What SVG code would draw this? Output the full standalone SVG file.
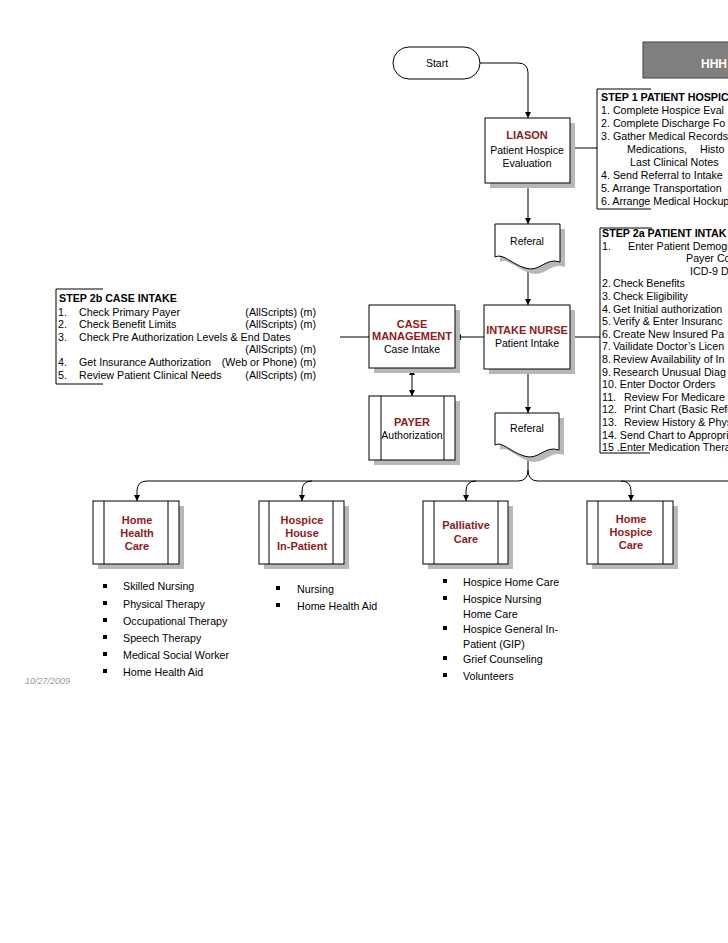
<svg xmlns="http://www.w3.org/2000/svg" width="728" height="943" viewBox="0 0 728 943">
<defs>
<marker id="arr" viewBox="0 0 10 10" refX="10" refY="5" markerWidth="6" markerHeight="6" orient="auto-start-reverse"><path d="M0,0 L10,5 L0,10 z" fill="#000"/></marker>
<style>
text{font-family:"Liberation Sans",Arial,sans-serif;font-size:10.7px;fill:#000}
.t{font-size:10.5px;text-anchor:middle}
.h{font-size:11px;font-weight:bold;fill:#8c1c1c;text-anchor:middle}
.b{font-weight:bold}
.box{fill:#fff;stroke:#000;stroke-width:1}
.sh{fill:#b8b8b8}
.ln{fill:none;stroke:#000;stroke-width:1}
.bul{fill:#000}
</style>
</defs>
<rect width="728" height="943" fill="#fff"/>

<g id="connectors">
<path class="ln" d="M480,63 H518 Q528,63 528,73 V118" marker-end="url(#arr)"/>
<path class="ln" d="M570,148 H597"/>
<path class="ln" d="M528,183 V224" marker-end="url(#arr)"/>
<path class="ln" d="M528,266 V305" marker-end="url(#arr)"/>
<path class="ln" d="M570,337 H600"/>
<path class="ln" d="M484,337 H455" marker-end="url(#arr)"/>
<path class="ln" d="M340,337 H369"/>
<path class="ln" d="M412,369 V396" marker-start="url(#arr)" marker-end="url(#arr)"/>
<path class="ln" d="M528,369 V413" marker-end="url(#arr)"/>
<path class="ln" d="M528,455 V470 Q528,481 518,481 H147 Q137,481 137,491 V501" marker-end="url(#arr)"/>
<path class="ln" d="M528,470 Q528,481 538,481 H728"/>
<path class="ln" d="M312,481 Q302,481 302,491 V501" marker-end="url(#arr)"/>
<path class="ln" d="M476,481 Q466,481 466,491 V501" marker-end="url(#arr)"/>
<path class="ln" d="M621,481 Q631,481 631,491 V501" marker-end="url(#arr)"/>
</g>

<g id="start">
<rect class="box" x="393" y="47" width="87" height="32" rx="16"/>
<text class="t" x="437" y="67">Start</text>
</g>

<g id="header">
<rect x="643" y="42" width="90" height="36" fill="#7f7f7f" stroke="#404040"/>
<text x="701" y="68" style="font-size:12px;font-weight:bold;fill:#fff">HHH</text>
</g>

<g id="liason">
<rect class="sh" x="490" y="123" width="85" height="65"/>
<rect class="box" x="485" y="118" width="85" height="65"/>
<text class="h" x="527" y="139">LIASON</text>
<text class="t" x="527" y="154">Patient Hospice</text>
<text class="t" x="527" y="167">Evaluation</text>
</g>

<g id="step1">
<path class="ln" d="M651,89 H597 V209 H651"/>
<text x="601" y="101" class="b">STEP 1  PATIENT HOSPIC</text>
<text x="601" y="114">1.  Complete Hospice Eval</text>
<text x="601" y="127">2.  Complete Discharge Fo</text>
<text x="601" y="140">3.  Gather Medical Records</text>
<text x="627" y="153">Medications,</text>
<text x="700" y="153">Histo</text>
<text x="630" y="166">Last Clinical Notes</text>
<text x="601" y="179">4. Send Referral to Intake</text>
<text x="601" y="192">5. Arrange Transportation</text>
<text x="601" y="205">6. Arrange Medical Hockup</text>
</g>

<g id="referal1">
<path class="sh" d="M500,229 H565 V267 C550,262 545,278 530,273 C515,268 508,258 500,262 z"/>
<path class="box" d="M495,224 H560 V262 C545,257 540,273 525,268 C510,263 503,253 495,257 z"/>
<text class="t" x="527" y="245">Referal</text>
</g>

<g id="intake">
<rect class="sh" x="489" y="310" width="86" height="64"/>
<rect class="box" x="484" y="305" width="86" height="64"/>
<text class="h" x="527" y="334">INTAKE NURSE</text>
<text class="t" x="527" y="347">Patient Intake</text>
</g>

<g id="step2a">
<path class="ln" d="M652,228 H600 V453 H650"/>
<text x="602" y="237" class="b">STEP 2a  PATIENT INTAK</text>
<text x="602" y="249.6">1.</text><text x="628" y="249.6">Enter Patient Demogra</text>
<text x="686" y="262.2">Payer Co</text>
<text x="690" y="274.8">ICD-9 Di</text>
<text x="602" y="287.4">2.</text><text x="613" y="287.4">Check Benefits</text>
<text x="602" y="300">3.</text><text x="613" y="300">Check Eligibility</text>
<text x="602" y="312.6">4.</text><text x="613" y="312.6">Get Initial authorization</text>
<text x="602" y="325.2">5.</text><text x="613" y="325.2">Verify &amp; Enter Insuranc</text>
<text x="602" y="337.8">6.</text><text x="613" y="337.8">Create New Insured Pa</text>
<text x="602" y="350.4">7.</text><text x="613" y="350.4">Vailidate Doctor’s Licen</text>
<text x="602" y="363">8.</text><text x="613" y="363">Review Availability of In</text>
<text x="602" y="375.6">9.</text><text x="613" y="375.6">Research Unusual Diag</text>
<text x="602" y="388.2">10. Enter Doctor Orders</text>
<text x="602" y="400.8">11.</text><text x="624" y="400.8">Review For Medicare</text>
<text x="602" y="413.4">12.</text><text x="624" y="413.4">Print Chart (Basic Refe</text>
<text x="602" y="426">13.</text><text x="624" y="426">Review History &amp; Phys</text>
<text x="602" y="438.6">14. Send Chart to Appropri</text>
<text x="602" y="451.2">15 .Enter Medication Thera</text>
</g>

<g id="case-management">
<rect class="sh" x="374" y="310" width="86" height="63"/>
<rect class="box" x="369" y="305" width="86" height="63"/>
<text class="h" x="412" y="328">CASE</text>
<text class="h" x="412" y="340">MANAGEMENT</text>
<text class="t" x="412" y="353">Case Intake</text>
</g>

<g id="step2b">
<path class="ln" d="M103,289 H56 V384 H103"/>
<text x="59" y="302" class="b">STEP 2b  CASE INTAKE</text>
<text x="58" y="315.6">1.</text><text x="79" y="315.6">Check Primary Payer</text><text x="316" y="315.6" text-anchor="end">(AllScripts) (m)</text>
<text x="58" y="328.2">2.</text><text x="79" y="328.2">Check Benefit Limits</text><text x="316" y="328.2" text-anchor="end">(AllScripts) (m)</text>
<text x="58" y="340.8">3.</text><text x="79" y="340.8">Check Pre Authorization Levels &amp; End Dates</text>
<text x="316" y="353.4" text-anchor="end">(AllScripts) (m)</text>
<text x="58" y="366">4.</text><text x="79" y="366">Get Insurance Authorization</text><text x="316" y="366" text-anchor="end">(Web or Phone) (m)</text>
<text x="58" y="378.6">5.</text><text x="79" y="378.6">Review Patient Clinical Needs</text><text x="316" y="378.6" text-anchor="end">(AllScripts) (m)</text>
</g>

<g id="payer">
<rect class="sh" x="374" y="401" width="86" height="64"/>
<rect class="box" x="369" y="396" width="86" height="64"/>
<path class="ln" d="M381,396 V460 M444,396 V460"/>
<text class="h" x="412" y="426">PAYER</text>
<text class="t" x="412" y="439">Authorization</text>
</g>

<g id="referal2">
<path class="sh" d="M500,418 H564 V455 C549,450 544,466 529,461 C514,456 507,446 500,450 z"/>
<path class="box" d="M495,413 H559 V450 C544,445 539,461 524,456 C509,451 502,441 495,445 z"/>
<text class="t" x="527" y="432">Referal</text>
</g>

<g id="home-health-care">
<rect class="sh" x="98" y="506" width="86" height="63"/>
<rect class="box" x="93" y="501" width="86" height="63"/>
<path class="ln" d="M104,501 V564 M168,501 V564"/>
<text class="h" x="137" y="524">Home</text>
<text class="h" x="137" y="537">Health</text>
<text class="h" x="137" y="550">Care</text>
<rect class="bul" x="103" y="584" width="4" height="4"/><text x="123" y="590">Skilled Nursing</text>
<rect class="bul" x="103" y="601" width="4" height="4"/><text x="123" y="607.5">Physical Therapy</text>
<rect class="bul" x="103" y="618" width="4" height="4"/><text x="123" y="624.5">Occupational Therapy</text>
<rect class="bul" x="103" y="635" width="4" height="4"/><text x="123" y="641.5">Speech Therapy</text>
<rect class="bul" x="103" y="652" width="4" height="4"/><text x="123" y="658.5">Medical Social Worker</text>
<rect class="bul" x="103" y="669" width="4" height="4"/><text x="123" y="675.5">Home Health Aid</text>
</g>

<g id="hospice-house">
<rect class="sh" x="264" y="506" width="85" height="63"/>
<rect class="box" x="259" y="501" width="85" height="63"/>
<path class="ln" d="M269,501 V564 M333,501 V564"/>
<text class="h" x="302" y="524">Hospice</text>
<text class="h" x="302" y="537">House</text>
<text class="h" x="302" y="550">In-Patient</text>
<rect class="bul" x="276" y="586" width="4" height="4"/><text x="297" y="592.5">Nursing</text>
<rect class="bul" x="276" y="603" width="4" height="4"/><text x="297" y="610">Home Health Aid</text>
</g>

<g id="palliative-care">
<rect class="sh" x="428" y="506" width="85" height="63"/>
<rect class="box" x="423" y="501" width="85" height="63"/>
<path class="ln" d="M434,501 V564 M498,501 V564"/>
<text class="h" x="466" y="529">Palliative</text>
<text class="h" x="466" y="543">Care</text>
<rect class="bul" x="443" y="579" width="4" height="4"/><text x="463" y="585.5">Hospice Home Care</text>
<rect class="bul" x="443" y="596" width="4" height="4"/><text x="463" y="602.5">Hospice Nursing</text>
<text x="463" y="617.5">Home Care</text>
<rect class="bul" x="443" y="626" width="4" height="4"/><text x="463" y="632.5">Hospice General In-</text>
<text x="463" y="647.5">Patient (GIP)</text>
<rect class="bul" x="443" y="656" width="4" height="4"/><text x="463" y="662.5">Grief Counseling</text>
<rect class="bul" x="443" y="673" width="4" height="4"/><text x="463" y="679.5">Volunteers</text>
</g>

<g id="home-hospice-care">
<rect class="sh" x="592" y="506" width="86" height="63"/>
<rect class="box" x="587" y="501" width="86" height="63"/>
<path class="ln" d="M598,501 V564 M663,501 V564"/>
<text class="h" x="631" y="523">Home</text>
<text class="h" x="631" y="536">Hospice</text>
<text class="h" x="631" y="549">Care</text>
</g>

<text x="25" y="684" style="font-size:9px;font-style:italic;fill:#999">10/27/2009</text>
</svg>
